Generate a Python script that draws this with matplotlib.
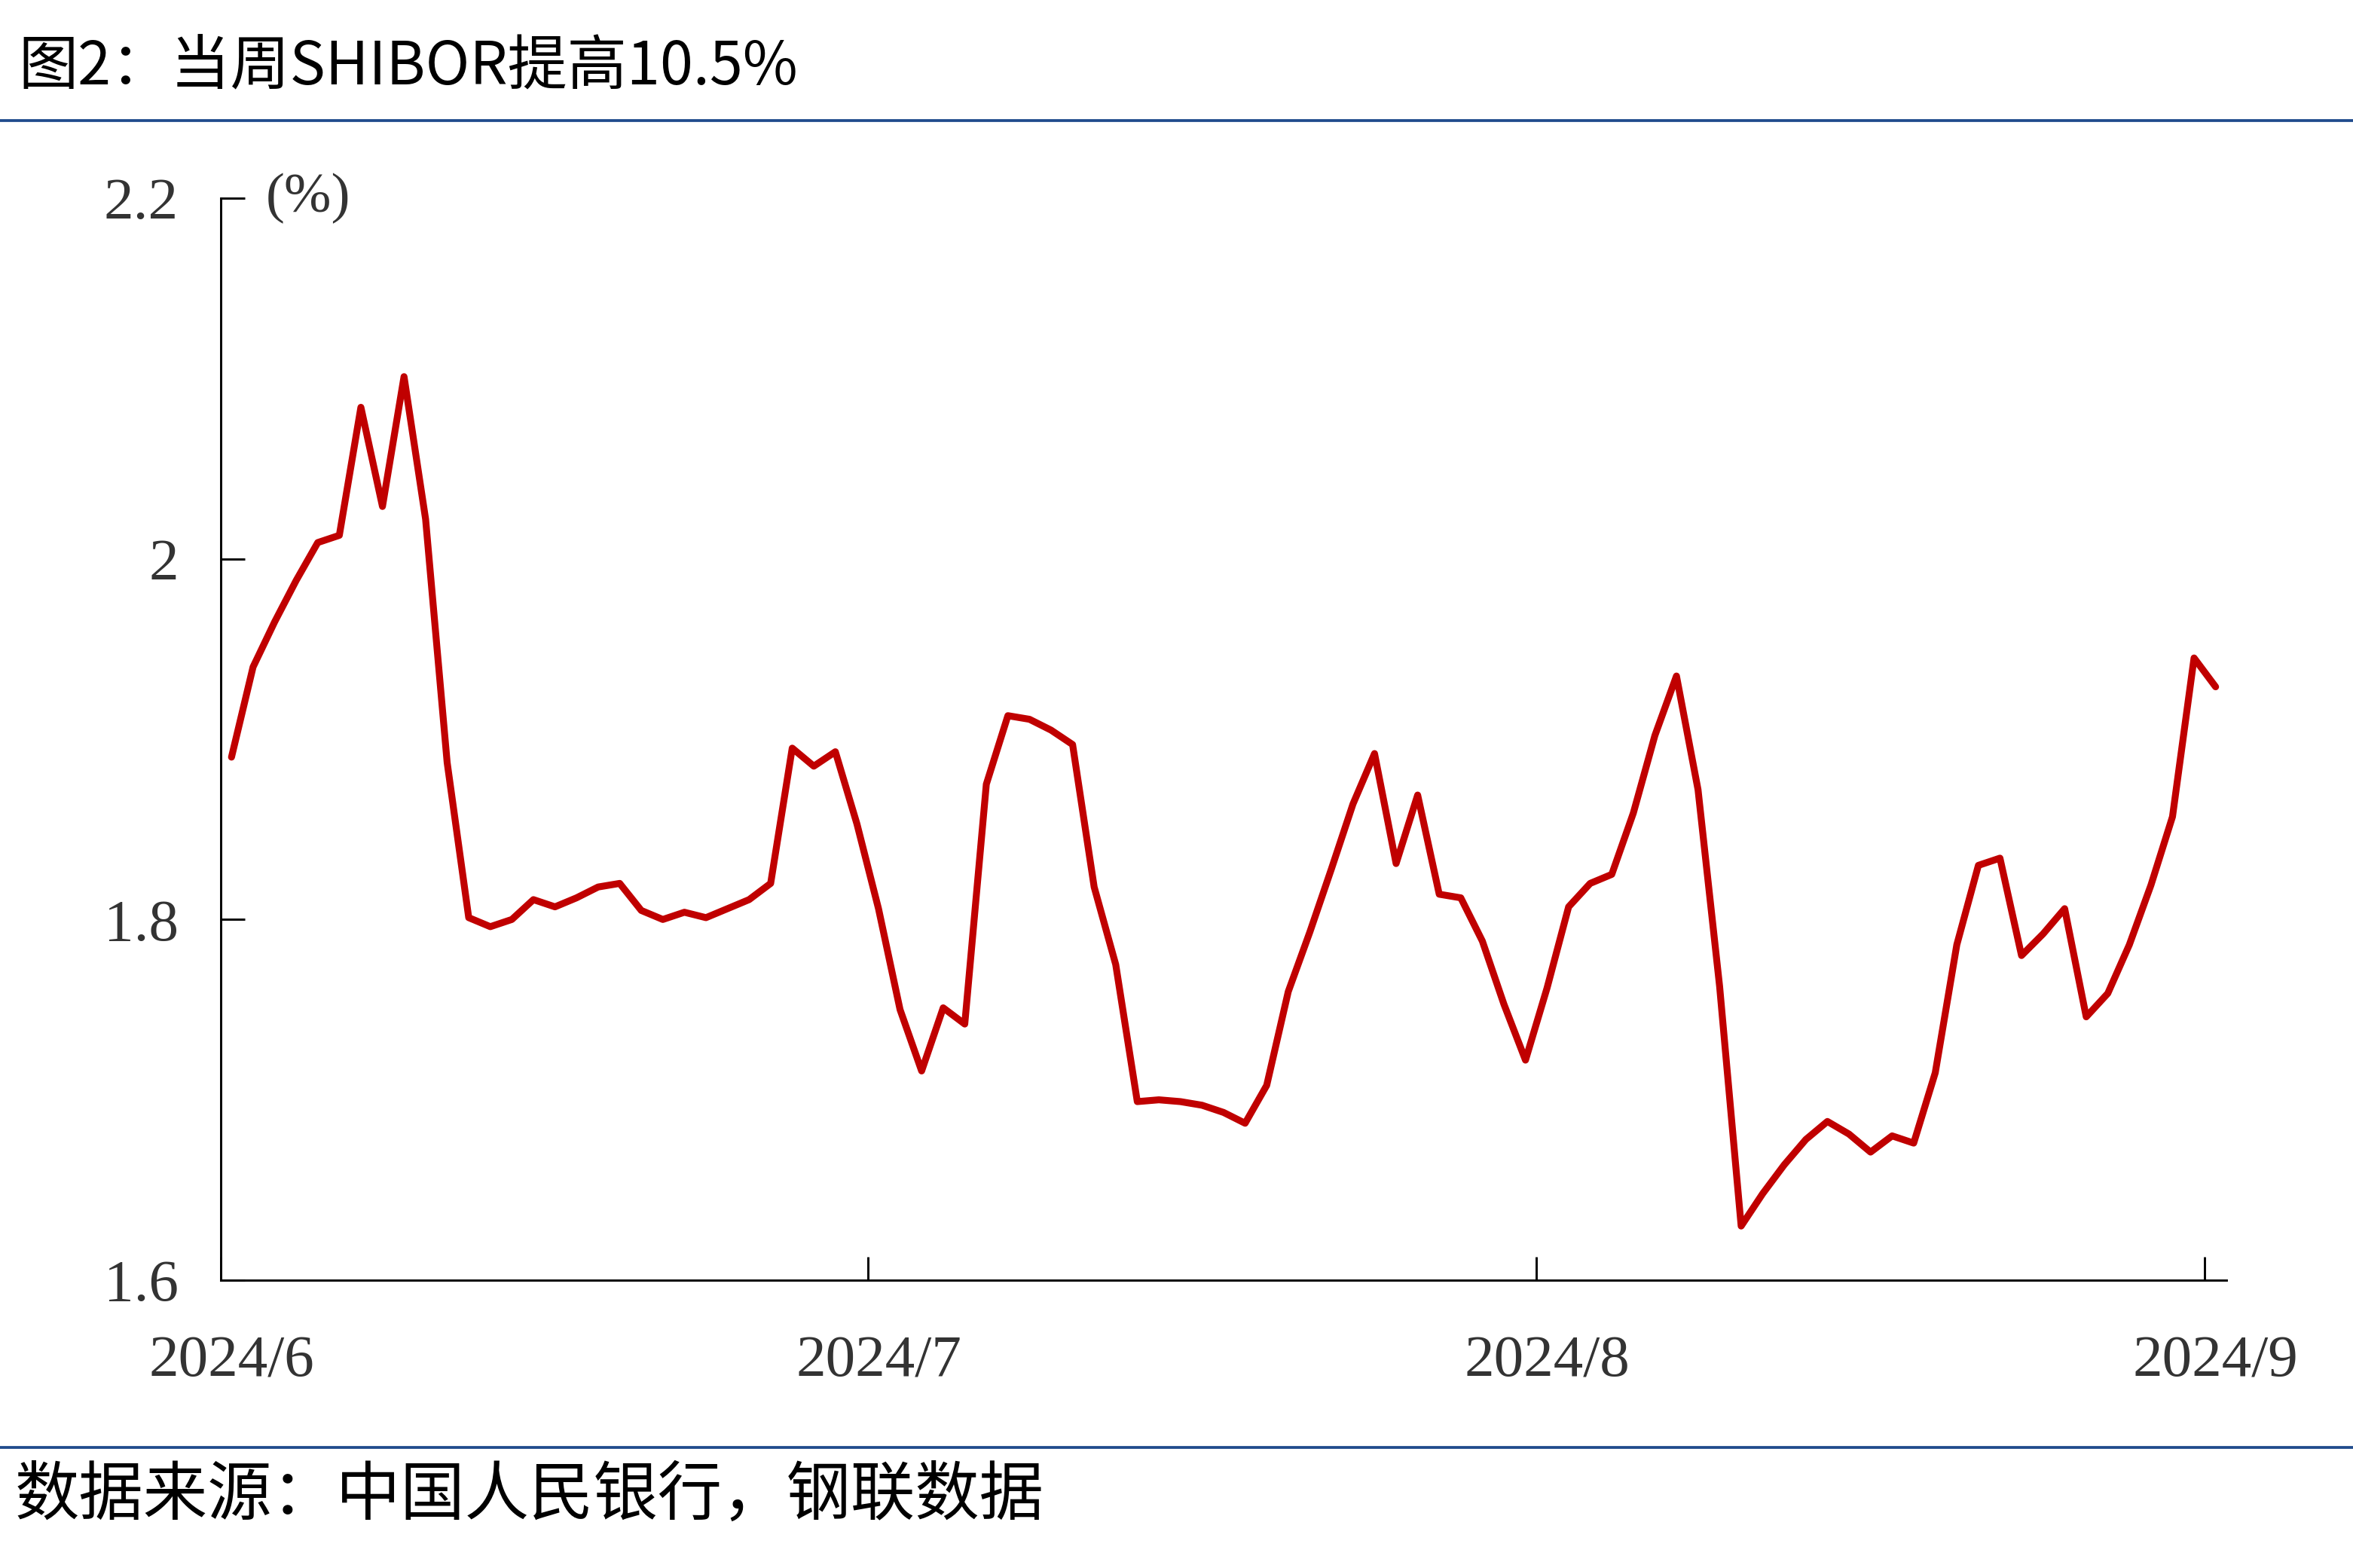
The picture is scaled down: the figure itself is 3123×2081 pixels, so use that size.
import matplotlib.pyplot as plt
import matplotlib.dates as mdates
import matplotlib.lines as mlines
import pandas as pd

plt.rcParams['font.family'] = ['Noto Sans CJK SC', 'DejaVu Sans']

# Daily SHIBOR readings (%), 2024-06-01 .. 2024-09-01
start_date = '2024-06-01'
shibor = [1.890, 1.940, 1.965, 1.988, 2.009, 2.013, 2.084, 2.029, 2.101, 2.022,
          1.887, 1.801, 1.796, 1.800, 1.811, 1.807, 1.812, 1.818, 1.820, 1.805,
          1.800, 1.804, 1.801, 1.806, 1.811, 1.820, 1.895, 1.885, 1.893, 1.853,
          1.806, 1.750, 1.716, 1.751, 1.742, 1.875, 1.913, 1.911, 1.905, 1.897,
          1.818, 1.775, 1.699, 1.700, 1.699, 1.697, 1.693, 1.687, 1.708, 1.760,
          1.793, 1.828, 1.864, 1.892, 1.831, 1.869, 1.814, 1.812, 1.788, 1.753,
          1.722, 1.762, 1.807, 1.820, 1.825, 1.859, 1.902, 1.935, 1.872, 1.763,
          1.630, 1.648, 1.664, 1.678, 1.688, 1.681, 1.671, 1.680, 1.676, 1.715,
          1.786, 1.830, 1.834, 1.780, 1.792, 1.806, 1.746, 1.759, 1.786, 1.819,
          1.857, 1.945, 1.929]
dates = pd.date_range(start_date, periods=len(shibor), freq='D')

month_starts = ['2024-06-01', '2024-07-01', '2024-08-01', '2024-09-01']
month_labels = ['2024/6', '2024/7', '2024/8', '2024/9']
y_ticks = [1.6, 1.8, 2.0, 2.2]
y_labels = ['1.6', '1.8', '2', '2.2']

title = '图2：当周SHIBOR提高10.5%'
source = '数据来源：中国人民银行，钢联数据'

half_day = pd.Timedelta(hours=12)
x = mdates.date2num((dates + half_day).to_pydatetime())
month_ticks = pd.to_datetime(month_starts)

fig = plt.figure(figsize=(10.41, 6.937), dpi=300)
ax = fig.add_axes([0.0938, 0.18357, 0.8524, 0.69005])

ax.plot(x, shibor, color='#C00000', lw=2.2,
        solid_joinstyle='round', solid_capstyle='round')

ax.set_xlim(mdates.date2num(dates[0].to_pydatetime()),
            mdates.date2num((dates[-1] + pd.Timedelta(days=1)).to_pydatetime()))
ax.set_ylim(1.6, 2.2)

# tick marks on month starts, labels centred in the day slot
ax.set_xticks(mdates.date2num(month_ticks.to_pydatetime()))
ax.set_xticklabels([])
ax.set_xticks(mdates.date2num((month_ticks + half_day).to_pydatetime()), minor=True)
ax.set_xticklabels(month_labels, minor=True)
ax.tick_params(axis='x', which='major', direction='in', length=7.4, width=0.7)
ax.tick_params(axis='x', which='minor', length=0, pad=17.5, labelsize=19,
               labelcolor='#333333', labelfontfamily='Liberation Serif')

ax.set_yticks(y_ticks)
ax.set_yticklabels(y_labels)
ax.tick_params(axis='y', direction='in', length=7.7, width=0.7, pad=13.5,
               labelsize=19, labelcolor='#333333', labelfontfamily='Liberation Serif')

for side in ['top', 'right']:
    ax.spines[side].set_visible(False)
for side in ['left', 'bottom']:
    ax.spines[side].set_linewidth(0.7)

fig.text(409 / 3123, 1 - 263 / 2081, '(%)', family='Liberation Serif', size=18,
         color='#333333', ha='center', va='center')

fig.text(24 / 3123, 1 - 90 / 2081, title, size=19, ha='left', va='center')
fig.text(20 / 3123, 1 - 1986 / 2081, source, size=20.5, ha='left', va='center')

for yy in [1 - 160 / 2081, 1 - 1921 / 2081]:
    fig.add_artist(mlines.Line2D([0, 1], [yy, yy], transform=fig.transFigure,
                                 color='#1F4A8C', lw=0.9))

fig.savefig('out.png', dpi=300)
